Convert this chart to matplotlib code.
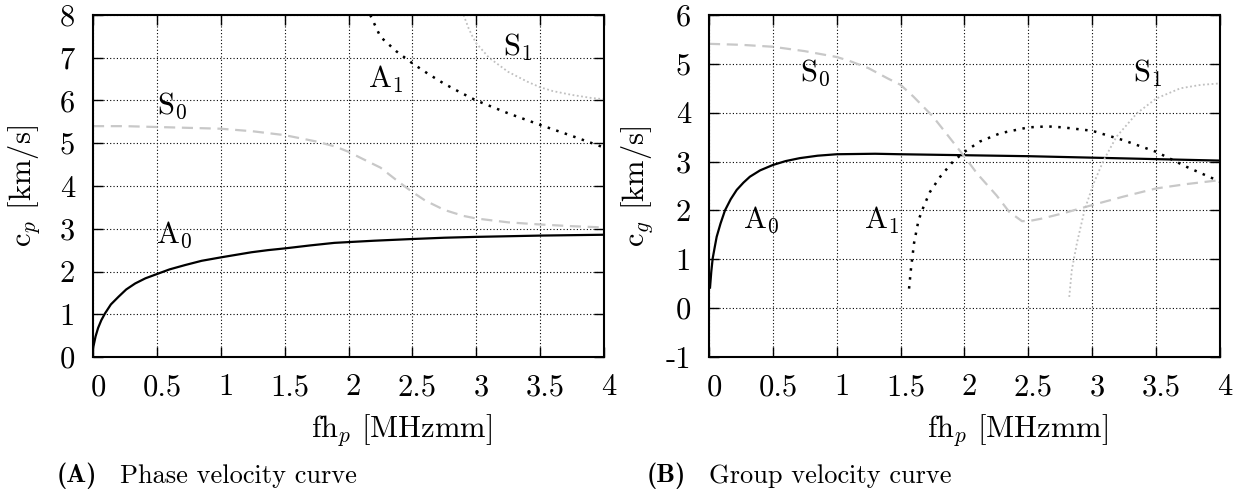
import matplotlib
matplotlib.use("Agg")
import matplotlib.pyplot as plt
import matplotlib.transforms as mtransforms

plt.rcParams['font.family'] = 'cmr10'
plt.rcParams['mathtext.fontset'] = 'cm'
plt.rcParams['axes.unicode_minus'] = False
plt.rcParams['axes.formatter.use_mathtext'] = True

# Phase velocity curves (km/s) vs fh_p (MHz mm)
a0_p_x = [0.0, 0.01, 0.02, 0.04, 0.065, 0.094, 0.14, 0.2, 0.26, 0.33, 0.41, 0.5, 0.6, 0.72,
          0.85, 1.0, 1.12, 1.24, 1.37, 1.5, 1.7, 1.89, 2.2, 2.5, 2.75, 3.0, 3.5, 4.0]
a0_p_y = [0.2, 0.34, 0.48, 0.68, 0.86, 1.02, 1.23, 1.41, 1.58, 1.72, 1.84, 1.94, 2.05, 2.15,
          2.25, 2.33, 2.39, 2.45, 2.50, 2.54, 2.61, 2.67, 2.72, 2.76, 2.79, 2.81, 2.84, 2.86]

s0_p_x = [0.0, 0.25, 0.5, 0.75, 1.0, 1.25, 1.5, 1.75, 1.9, 2.0, 2.1, 2.25, 2.4, 2.5, 2.6,
          2.75, 2.9, 3.0, 3.25, 3.5, 3.75, 4.0]
s0_p_y = [5.40, 5.40, 5.38, 5.36, 5.34, 5.28, 5.19, 5.04, 4.92, 4.80, 4.65, 4.43, 4.08, 3.86,
          3.66, 3.44, 3.30, 3.24, 3.15, 3.10, 3.06, 3.03]

a1_p_x = [2.17, 2.25, 2.375, 2.5, 2.625, 2.75, 2.875, 3.0, 3.25, 3.5, 3.75, 4.0]
a1_p_y = [8.0, 7.49, 7.15, 6.87, 6.62, 6.39, 6.19, 6.0, 5.70, 5.43, 5.17, 4.90]

s1_p_x = [2.90, 2.92, 2.94, 2.97, 3.0, 3.1, 3.25, 3.4, 3.5, 3.6, 3.75, 3.9, 4.0]
s1_p_y = [8.0, 7.85, 7.69, 7.5, 7.34, 7.0, 6.67, 6.44, 6.31, 6.22, 6.13, 6.06, 6.03]

# Group velocity curves
a0_g_x = [0.008, 0.018, 0.029, 0.045, 0.06, 0.09, 0.125, 0.17, 0.217, 0.27, 0.32, 0.4, 0.5,
          0.6, 0.71, 0.85, 1.0, 1.3, 1.5, 2.0, 2.5, 3.0, 3.5, 4.0]
a0_g_y = [0.42, 0.75, 1.02, 1.25, 1.46, 1.73, 2.0, 2.23, 2.42, 2.57, 2.69, 2.82, 2.93,
          3.01, 3.07, 3.12, 3.15, 3.16, 3.15, 3.13, 3.11, 3.08, 3.05, 3.02]

s0_g_x = [0.0, 0.25, 0.5, 0.75, 1.0, 1.1, 1.25, 1.4, 1.5, 1.6, 1.75, 1.85, 2.0, 2.1, 2.25,
          2.35, 2.45, 2.52, 2.6, 2.77, 3.0, 3.24, 3.5, 3.74, 4.0]
s0_g_y = [5.41, 5.39, 5.35, 5.26, 5.14, 5.06, 4.91, 4.70, 4.57, 4.33, 3.93, 3.6, 3.10, 2.75,
          2.31, 1.97, 1.78, 1.79, 1.83, 1.94, 2.11, 2.28, 2.45, 2.54, 2.62]

a1_g_x = [1.566, 1.58, 1.605, 1.64, 1.68, 1.73, 1.81, 1.91, 2.0, 2.12, 2.28, 2.5, 2.65, 2.77,
          3.0, 3.24, 3.5, 3.74, 4.0]
a1_g_y = [0.40, 0.78, 1.33, 1.80, 2.08, 2.38, 2.69, 3.0, 3.2, 3.41, 3.58, 3.70, 3.72, 3.70,
          3.63, 3.44, 3.20, 2.89, 2.59]

s1_g_x = [2.82, 2.84, 2.88, 2.94, 3.01, 3.09, 3.19, 3.35, 3.5, 3.69, 3.85, 4.0]
s1_g_y = [0.23, 0.78, 1.33, 2.01, 2.55, 3.03, 3.51, 3.99, 4.29, 4.50, 4.57, 4.60]

x_ticks = [0, 0.5, 1, 1.5, 2, 2.5, 3, 3.5, 4]
x_labels = ['0', '0.5', '1', '1.5', '2', '2.5', '3', '3.5', '4']
yp_ticks = [0, 1, 2, 3, 4, 5, 6, 7, 8]
yg_ticks = [-1, 0, 1, 2, 3, 4, 5, 6]

GRAY_DASH = '#c8c8c8'
GRAY_DOT = '#c0c0c0'


def style_axes(ax, yticks, ylabel, ylab_x):
    ax.set_xlim(0, 4)
    ax.set_ylim(yticks[0], yticks[-1])
    ax.set_xticks(x_ticks)
    ax.set_xticklabels(x_labels)
    ax.set_yticks(yticks)
    ax.set_yticklabels([str(t) for t in yticks])
    ax.tick_params(direction='in', top=True, right=True, length=7, width=1,
                   labelsize=22, pad=12)
    ax.tick_params(axis='y', pad=13)
    ax.grid(True, color='black', linestyle=(0, (1, 2)), linewidth=0.8)
    for sp in ax.spines.values():
        sp.set_linewidth(1.5)
    # labels sit a little right of their ticks
    off = mtransforms.ScaledTranslation(5 / 100, 0, ax.figure.dpi_scale_trans)
    for lab in ax.get_xticklabels():
        lab.set_transform(lab.get_transform() + off)
    ax.set_ylabel(ylabel, fontsize=22)
    ax.yaxis.set_label_coords(ylab_x, 0.5)
    ax.text(0.603, -0.213, r'fh$_p$ [MHzmm]', transform=ax.transAxes,
            ha='center', va='center', fontsize=22)


fig = plt.figure(figsize=(12.54, 4.98), dpi=100)
ax1 = fig.add_axes([93 / 1254, 141 / 498, 511 / 1254, 342 / 498])
ax2 = fig.add_axes([709 / 1254, 141 / 498, 511 / 1254, 342 / 498])

# (A) phase velocity
ax1.plot(a0_p_x, a0_p_y, color='black', lw=1.6)
ax1.plot(s0_p_x, s0_p_y, color=GRAY_DASH, lw=1.6, linestyle=(0, (5, 3)))
ax1.plot(a1_p_x, a1_p_y, color='black', lw=1.8, linestyle=(0, (1, 2.6)))
ax1.plot(s1_p_x, s1_p_y, color=GRAY_DOT, lw=1.3, linestyle=(0, (1, 1.4)))
style_axes(ax1, yp_ticks, r'c$_p$ [km/s]', -0.10)
ax1.text(0.5, 5.87, r'S$_0$', fontsize=22, va='center', ha='left')
ax1.text(0.49, 2.85, r'A$_0$', fontsize=22, va='center', ha='left')
ax1.text(2.15, 6.5, r'A$_1$', fontsize=22, va='center', ha='left')
ax1.text(3.21, 7.25, r'S$_1$', fontsize=22, va='center', ha='left')

# (B) group velocity
ax2.plot(a0_g_x, a0_g_y, color='black', lw=1.6)
ax2.plot(s0_g_x, s0_g_y, color=GRAY_DASH, lw=1.6, linestyle=(0, (5, 3)))
ax2.plot(a1_g_x, a1_g_y, color='black', lw=1.8, linestyle=(0, (1, 2.6)))
ax2.plot(s1_g_x, s1_g_y, color=GRAY_DOT, lw=1.3, linestyle=(0, (1, 1.4)))
style_axes(ax2, yg_ticks, r'c$_g$ [km/s]', -0.106)
ax2.text(0.71, 4.81, r'S$_0$', fontsize=22, va='center', ha='left')
ax2.text(0.27, 1.8, r'A$_0$', fontsize=22, va='center', ha='left')
ax2.text(1.21, 1.8, r'A$_1$', fontsize=22, va='center', ha='left')
ax2.text(3.32, 4.81, r'S$_1$', fontsize=22, va='center', ha='left')

# captions
cy = 1 - 476 / 498
fig.text(57 / 1254, cy, '(A)', family='cmb10', fontsize=19, va='center')
fig.text(120 / 1254, cy, 'Phase velocity curve', fontsize=19, va='center')
fig.text(647 / 1254, cy, '(B)', family='cmb10', fontsize=19, va='center')
fig.text(709 / 1254, cy, 'Group velocity curve', fontsize=19, va='center')

fig.savefig('out.png', dpi=100)
